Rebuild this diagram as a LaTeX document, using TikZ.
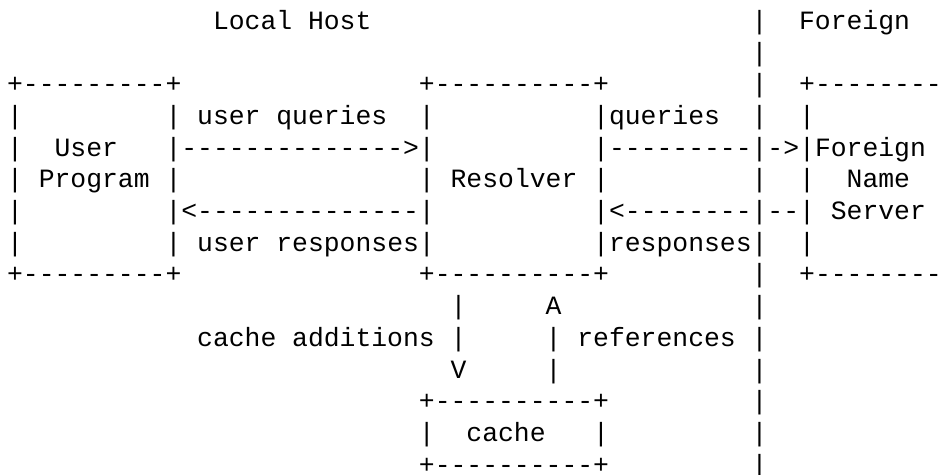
\documentclass[tikz,border=0pt]{standalone}
\usepackage{fontspec}
\setmonofont{Liberation Mono}
\newcommand\gap[1]{\hskip#1\dimexpr0.6em\relax}
\begin{document}
\begin{tikzpicture}[x=1pt,y=1pt,
  asciirow/.style={anchor=base west, inner sep=0pt, outer sep=0pt,
    font=\fontsize{26.4}{30}\selectfont\ttfamily}]
\useasboundingbox (0,0) rectangle (949,-474);
\clip (0,0) rectangle (949,-474);
\def\xo{7.1}
\node[asciirow] (r0) at (\xo,-29.3) {\gap{13}Local\gap{1}Host\gap{24}|\gap{2}Foreign};
\node[asciirow] (r1) at (\xo,-61.0) {\gap{47}|};
\node[asciirow] (r2) at (\xo,-92.7) {+---------+\gap{15}+----------+\gap{9}|\gap{2}+--------};
\node[asciirow] (r3) at (\xo,-124.4) {|\gap{9}|\gap{1}user\gap{1}queries\gap{2}|\gap{10}|queries\gap{2}|\gap{2}|};
\node[asciirow] (r4) at (\xo,-156.1) {|\gap{2}User\gap{3}|-------------->|\gap{10}|---------|->|Foreign};
\node[asciirow] (r5) at (\xo,-187.8) {|\gap{1}Program\gap{1}|\gap{15}|\gap{1}Resolver\gap{1}|\gap{9}|\gap{2}|\gap{2}Name};
\node[asciirow] (r6) at (\xo,-219.5) {|\gap{9}|<--------------|\gap{10}|<--------|--|\gap{1}Server};
\node[asciirow] (r7) at (\xo,-251.2) {|\gap{9}|\gap{1}user\gap{1}responses|\gap{10}|responses|\gap{2}|};
\node[asciirow] (r8) at (\xo,-282.9) {+---------+\gap{15}+----------+\gap{9}|\gap{2}+--------};
\node[asciirow] (r9) at (\xo,-314.6) {\gap{28}|\gap{5}A\gap{12}|};
\node[asciirow] (r10) at (\xo,-346.3) {\gap{12}cache\gap{1}additions\gap{1}|\gap{5}|\gap{1}references\gap{1}|};
\node[asciirow] (r11) at (\xo,-378.0) {\gap{28}V\gap{5}|\gap{12}|};
\node[asciirow] (r12) at (\xo,-409.7) {\gap{26}+----------+\gap{9}|};
\node[asciirow] (r13) at (\xo,-441.4) {\gap{26}|\gap{2}cache\gap{3}|\gap{9}|};
\node[asciirow] (r14) at (\xo,-473.1) {\gap{26}+----------+\gap{9}|};
\end{tikzpicture}
\end{document}
